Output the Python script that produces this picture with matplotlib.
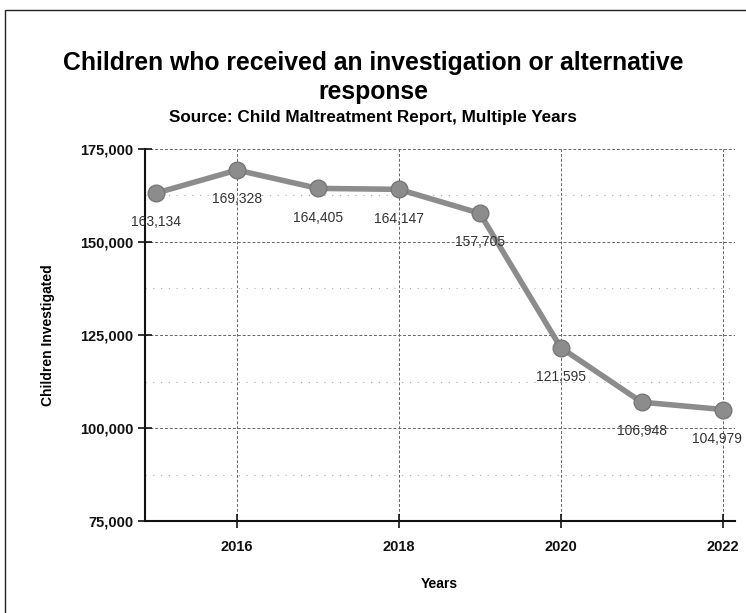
"""
Children investigated - line chart
"""

import matplotlib.pyplot as plt
from matplotlib.patches import Rectangle
from matplotlib.ticker import FuncFormatter, MultipleLocator

plt.rcParams["font.family"] = ["Liberation Sans", "DejaVu Sans"]

years = [2015, 2016, 2017, 2018, 2019, 2020, 2021, 2022]
investigated = [163134, 169328, 164405, 164147, 157705, 121595, 106948, 104979]
x_ticks = [2016, 2018, 2020, 2022]
y_ticks = [75000, 100000, 125000, 150000, 175000]

fig = plt.figure(figsize=(7.46, 6.13), dpi=100)
ax = fig.add_axes([0.194, 0.150, 0.791, 0.607])

# scan border
fig.add_artist(Rectangle((0.007, -0.01), 1.0, 0.994, transform=fig.transFigure,
                         fill=False, edgecolor="#222222", linewidth=1.0))

ax.plot(years, investigated, color="#8c8c8c", linewidth=4, marker="o",
        markersize=12, markerfacecolor="#8c8c8c", markeredgecolor="#777777",
        zorder=3)
for i, (x, y) in enumerate(zip(years, investigated)):
    dx = -4 if i == len(years) - 1 else 0
    ax.annotate(f"{y:,}", (x, y), xytext=(dx, -21), textcoords="offset points",
                ha="center", va="center", fontsize=10, color="#333333",
                zorder=4, annotation_clip=False)

ax.set_xlim(2014.86, 2022.15)
ax.set_ylim(75000, 175000)
ax.set_xticks(x_ticks)
ax.set_yticks(y_ticks)
ax.yaxis.set_minor_locator(MultipleLocator(12500))
ax.yaxis.set_major_formatter(FuncFormatter(lambda v, p: f"{int(v):,}"))

ax.grid(True, which="major", color="#666666", linestyle=(0, (3, 2)), linewidth=0.7)
ax.grid(True, which="minor", axis="y", color="#aaaaaa", linestyle=(0, (1, 6)), linewidth=0.8)
ax.tick_params(axis="both", which="major", direction="inout", length=10,
               width=1.2, labelsize=10.5, colors="#111111")
ax.tick_params(axis="x", which="major", pad=9)
ax.tick_params(axis="y", which="major", pad=3)
ax.tick_params(axis="y", which="minor", length=0)
for t in ax.get_xticklabels() + ax.get_yticklabels():
    t.set_fontweight("bold")

for side in ("top", "right"):
    ax.spines[side].set_visible(False)
for side in ("left", "bottom"):
    ax.spines[side].set_linewidth(1.5)
    ax.spines[side].set_color("#111111")

ax.set_xlabel("Years", fontsize=10, fontweight="bold", labelpad=16)
ax.set_ylabel("Children Investigated", fontsize=10, fontweight="bold", labelpad=18)

fig.text(0.5, 0.874, "Children who received an investigation or alternative\nresponse",
         ha="center", va="center", fontsize=17.8, fontweight="bold",
         linespacing=1.25)
fig.text(0.5, 0.808, "Source: Child Maltreatment Report, Multiple Years",
         ha="center", va="center", fontsize=12.3, fontweight="bold")

fig.savefig("out.png", dpi=100)
